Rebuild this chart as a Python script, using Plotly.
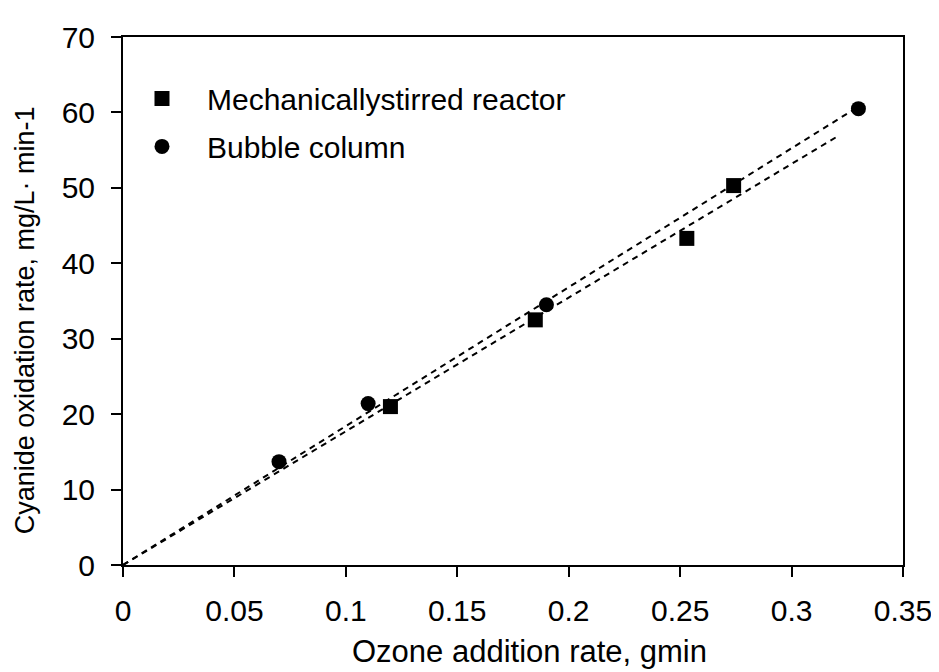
import numpy as np
import plotly.graph_objects as go

# Data
stirred_x = [0.12, 0.185, 0.253, 0.274]
stirred_y = [21.0, 32.5, 43.3, 50.3]
bubble_x = [0.07, 0.11, 0.19, 0.33]
bubble_y = [13.7, 21.4, 34.5, 60.5]
stirred_fit_end = 0.32
bubble_fit_end = 0.33

x_ticks = [0, 0.05, 0.1, 0.15, 0.2, 0.25, 0.3, 0.35]
x_tick_labels = ["0", "0.05", "0.1", "0.15", "0.2", "0.25", "0.3", "0.35"]
y_ticks = [0, 10, 20, 30, 40, 50, 60, 70]

x_title = "Ozone addition rate, gmin"
y_title = "Cyanide oxidation rate, mg/L· min-1"
FONT = "Liberation Sans, Arial, sans-serif"


def slope_through_origin(xs, ys):
    xs = np.array(xs)
    ys = np.array(ys)
    return float((xs * ys).sum() / (xs * xs).sum())


s_st = slope_through_origin(stirred_x, stirred_y)
s_bu = slope_through_origin(bubble_x, bubble_y)

fig = go.Figure()
fig.add_trace(go.Scatter(
    x=[0, stirred_fit_end], y=[0, s_st * stirred_fit_end], mode="lines",
    line=dict(color="black", width=2, dash="6px,5px"), showlegend=False,
    hoverinfo="skip"))
fig.add_trace(go.Scatter(
    x=[0, bubble_fit_end], y=[0, s_bu * bubble_fit_end], mode="lines",
    line=dict(color="black", width=2, dash="6px,5px"), showlegend=False,
    hoverinfo="skip"))
fig.add_trace(go.Scatter(
    x=stirred_x, y=stirred_y, mode="markers", name="Mechanicallystirred reactor",
    legendgroup="a",
    marker=dict(symbol="square", size=15, color="black")))
fig.add_trace(go.Scatter(
    x=bubble_x, y=bubble_y, mode="markers", name="Bubble column",
    legendgroup="b",
    marker=dict(symbol="circle", size=15, color="black")))

fig.update_layout(
    width=939, height=672,
    margin=dict(l=115, r=44, t=20, b=115),
    paper_bgcolor="white", plot_bgcolor="white",
    font=dict(family=FONT, size=30, color="black"),
    legend=dict(x=-0.0077, y=0.933, xanchor="left", yanchor="top",
                bgcolor="rgba(0,0,0,0)", font=dict(size=30),
                itemsizing="trace", itemwidth=80, tracegroupgap=6),
    xaxis=dict(
        range=[0, 0.35], tickvals=x_ticks, ticktext=x_tick_labels,
        showgrid=False, zeroline=False, showline=True, linecolor="black",
        linewidth=2, mirror=True, ticks="outside", ticklen=10, tickwidth=2,
        tickcolor="black", tickfont=dict(size=30), ticklabelstandoff=8,
    ),
    yaxis=dict(
        range=[0, 70], tickvals=y_ticks,
        showgrid=False, zeroline=False, showline=True, linecolor="black",
        linewidth=2, mirror=True, ticks="outside", ticklen=10, tickwidth=2,
        tickcolor="black", tickfont=dict(size=30), ticklabelstandoff=10,
    ),
    annotations=[
        dict(text=x_title, xref="paper", yref="paper", x=0.521, y=-0.164,
             xanchor="center", yanchor="middle", showarrow=False,
             font=dict(size=31)),
        dict(text=y_title, xref="paper", yref="paper", x=-0.1256, y=0.4637,
             xanchor="center", yanchor="middle", showarrow=False, textangle=-90,
             font=dict(size=27)),
    ],
)

fig.write_html("out.html")
